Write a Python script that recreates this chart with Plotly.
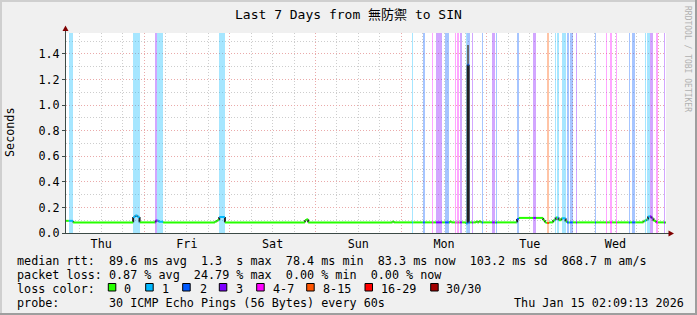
import plotly.graph_objects as go
import pandas as pd

# ---------------- data ----------------
START = pd.Timestamp("2026-01-08 02:09:13")
END = pd.Timestamp("2026-01-15 02:09:13")
SPAN_H = 168.0

# loss periods (hours since START) and their loss category index
band_start_h = [0.8, 18.8, 24.9, 25.6, 42.8, 96.9, 99.9, 102.5, 103.6, 106.1, 109.0, 109.6, 110.3,
                112.0, 112.4, 113.7, 116.5, 119.3, 120.4, 126.2, 130.8, 134.7, 136.9, 137.5, 138.9,
                140.3, 141.1, 142.8, 148.1, 151.2, 152.3, 154.0, 157.6, 158.5, 162.1, 162.7, 163.5,
                165.2, 167.4]
band_end_h = [2.0, 20.7, 25.6, 27.2, 44.5, 97.2, 100.5, 102.8, 105.3, 107.2, 109.3, 110.1, 110.9,
              112.4, 113.1, 114.0, 116.8, 120.1, 120.7, 126.8, 131.6, 135.3, 137.2, 138.0, 140.0,
              140.8, 141.9, 143.1, 148.4, 151.5, 152.9, 154.3, 157.9, 159.4, 162.4, 163.5, 164.3,
              165.7, 167.7]
band_loss = [1, 1, 3, 1, 1, 1, 2, 4, 3, 2, 4, 4, 3, 1, 2, 3, 2, 3, 2, 2, 3, 5, 1, 1, 1, 2, 2, 3,
             2, 4, 4, 4, 2, 2, 1, 1, 3, 4, 3]

# median rtt (seconds), step changes at these hours since START
median_h = [0.0, 2.0, 18.8, 19.4, 20.0, 20.6, 25.1, 25.9, 27.2, 41.7, 42.3, 42.9, 44.5, 66.9,
            67.3, 67.8, 91.4, 91.8, 107.5, 107.9, 112.0, 112.45, 112.75, 114.8, 115.2, 115.6,
            116.1, 126.3, 126.8, 133.6, 134.1, 134.5, 135.3, 136.4, 137.1, 137.9, 138.7, 139.9,
            140.3, 161.7, 162.5, 163.0, 163.9, 164.5, 165.2]
median_s = [0.095, 0.083, 0.125, 0.137, 0.125, 0.083, 0.098, 0.088, 0.083, 0.090, 0.100, 0.125,
            0.083, 0.100, 0.107, 0.083, 0.090, 0.083, 0.090, 0.083, 0.075, 1.316, 0.083, 0.090,
            0.083, 0.092, 0.083, 0.110, 0.118, 0.100, 0.083, 0.078, 0.083, 0.100, 0.122, 0.100,
            0.115, 0.090, 0.083, 0.095, 0.105, 0.130, 0.115, 0.095, 0.083]

# smoke (ping spread) visible at the spike
smoke_start_h = [112.45]
smoke_end_h = [112.9]
smoke_lo = [0.09]
smoke_hi = [1.47]

loss_labels = ["0", "1", "2", "3", "4-7", "8-15", "16-29", "30/30"]
loss_colors = ["#26ff00", "#00b8ff", "#0059ff", "#7e00ff", "#ff00ff", "#ff5500", "#ff0000", "#a10000"]

y_tick_vals = [0.0, 0.2, 0.4, 0.6, 0.8, 1.0, 1.2, 1.4]
Y_MAX = 1.564

title_text = "Last 7 Days from 無防禦 to SIN"
legend_lines = [
    "median rtt:  89.6 ms avg  1.3  s max  78.4 ms min  83.3 ms now  103.2 ms sd  868.7 m am/s",
    "packet loss: 0.87 % avg  24.79 % max  0.00 % min  0.00 % now",
    "loss color:",
    "probe:       30 ICMP Echo Pings (56 Bytes) every 60s",
]
stamp_text = "Thu Jan 15 02:09:13 2026"
watermark = "RRDTOOL / TOBI OETIKER"

# ---------------- style ----------------
W, H = 697, 315
L, T, PW, PH = 66, 33, 600, 200
MONO = "DejaVu Sans Mono, Noto Sans CJK TC, monospace"
FS = 11.75
BACK = "#F0F0F0"
GRID = "#cdcdcd"
MGRID = "#eaaaaa"
AXIS = "#3c4a46"
ARROW = "#7f0000"


def rgba(hexc, a):
    hexc = hexc.lstrip("#")
    r, g, b = int(hexc[0:2], 16), int(hexc[2:4], 16), int(hexc[4:6], 16)
    return f"rgba({r},{g},{b},{a})"


def ts(h):
    return START + pd.to_timedelta(h, unit="h")


def px2x(px):
    return (px - L) / PW


def py2y(py):
    return (T + PH - py) / PH


def cat_at(h):
    for s, e, c in zip(band_start_h, band_end_h, band_loss):
        if s <= h < e:
            return c
    return 0


fig = go.Figure()

# loss background bands
fig.add_trace(go.Bar(
    x=[ts((s + e) / 2) for s, e in zip(band_start_h, band_end_h)],
    y=[Y_MAX] * len(band_loss),
    base=0,
    width=[(e - s) * 3600 * 1000 for s, e in zip(band_start_h, band_end_h)],
    marker=dict(color=[rgba(loss_colors[c], 0.35) for c in band_loss], line=dict(width=0)),
    hoverinfo="skip",
))

# smoke
fig.add_trace(go.Bar(
    x=[ts((s + e) / 2) for s, e in zip(smoke_start_h, smoke_end_h)],
    y=[hi - lo for lo, hi in zip(smoke_lo, smoke_hi)],
    base=smoke_lo,
    width=[(e - s) * 3600 * 1000 for s, e in zip(smoke_start_h, smoke_end_h)],
    marker=dict(color="#6a6a6a", line=dict(width=0)),
    hoverinfo="skip",
))

# median pieces coloured by loss
cuts_all = sorted(set(band_start_h + band_end_h))
pieces = []
for i in range(len(median_h)):
    a = median_h[i]
    b = median_h[i + 1] if i + 1 < len(median_h) else SPAN_H
    v = median_s[i]
    cuts = [a] + [t for t in cuts_all if a < t < b] + [b]
    for j in range(len(cuts) - 1):
        pieces.append((cuts[j], cuts[j + 1], v, cat_at((cuts[j] + cuts[j + 1]) / 2)))

vx, vy = [], []
for k in range(1, len(pieces)):
    if abs(pieces[k][2] - pieces[k - 1][2]) > 1e-9:
        vx += [ts(pieces[k][0]), ts(pieces[k][0]), None]
        vy += [pieces[k - 1][2], pieces[k][2], None]
fig.add_trace(go.Scatter(x=vx, y=vy, mode="lines", line=dict(color="#222222", width=2),
                         hoverinfo="skip", connectgaps=False))

for c, col in enumerate(loss_colors):
    xs, ys = [], []
    for a, b, v, cc in pieces:
        if cc == c:
            xs += [ts(a), ts(b), None]
            ys += [v, v, None]
    if xs:
        fig.add_trace(go.Scatter(x=xs, y=ys, mode="lines", line=dict(color=col, width=2),
                                 hoverinfo="skip", connectgaps=False))

# ---------------- annotations & decorations ----------------
ann = []


def text(px, py, s, size=FS, anchor="left", color="#000000", angle=0):
    ann.append(dict(x=px2x(px), y=py2y(py), xref="paper", yref="paper", text=s.replace(" ", "\u00a0"),
                    showarrow=False, xanchor=anchor, yanchor="middle", textangle=angle,
                    font=dict(family=MONO, size=size, color=color), borderpad=0))


text(348.5, 14.5, title_text, size=13, anchor="center")
text(10, 132, "Seconds", anchor="center", angle=-90)
text(688, 59, watermark, size=8, anchor="center", color="#b0b0b0", angle=90)
line_y = [260.5, 274.5, 288.5, 302.5]
for s, yy in zip(legend_lines, line_y):
    text(15.5, yy, s)
text(513, 302.5, stamp_text)

box_x = [108.3, 145.7, 182.7, 219.3, 256.7, 306.7, 365, 430.7]
label_x = [123.3, 161.7, 199, 235.7, 272.7, 322.7, 380, 445.7]
shapes = []
for bx, lx, lab, col in zip(box_x, label_x, loss_labels, loss_colors):
    shapes.append(dict(type="rect", xref="paper", yref="paper", x0=px2x(bx), x1=px2x(bx + 7.5),
                       y0=py2y(291), y1=py2y(283.5), fillcolor=col, line=dict(color="#000", width=1)))
    text(lx - 0.5, 288.5, lab)

# frame
for (x0, y0, x1, y1, col) in [(0, 0, W, 2, "#CFCFCF"), (0, 0, 2, H, "#CFCFCF"),
                               (0, H - 2, W, H, "#9E9E9E"), (W - 2, 0, W, H, "#9E9E9E")]:
    shapes.append(dict(type="rect", xref="paper", yref="paper", x0=px2x(x0), x1=px2x(x1),
                       y0=py2y(y1), y1=py2y(y0), fillcolor=col, line=dict(width=0), layer="above"))

# axis extensions & arrows
shapes.append(dict(type="line", xref="paper", yref="paper", x0=px2x(65.5), x1=px2x(65.5),
                   y0=py2y(33), y1=py2y(29), line=dict(color=AXIS, width=1)))
shapes.append(dict(type="path", xref="paper", yref="paper",
                   path=f"M {px2x(62.5)} {py2y(31)} L {px2x(65.5)} {py2y(25.5)} L {px2x(68.5)} {py2y(31)} Z",
                   fillcolor=ARROW, line=dict(width=0)))
shapes.append(dict(type="line", xref="paper", yref="paper", x0=px2x(666), x1=px2x(670),
                   y0=py2y(233.5), y1=py2y(233.5), line=dict(color=AXIS, width=1)))
shapes.append(dict(type="path", xref="paper", yref="paper",
                   path=f"M {px2x(668.5)} {py2y(230.5)} L {px2x(674)} {py2y(233.5)} L {px2x(668.5)} {py2y(236.5)} Z",
                   fillcolor=ARROW, line=dict(width=0)))

fig.update_layout(
    width=W, height=H,
    margin=dict(l=L, r=W - L - PW, t=T, b=H - T - PH, pad=0),
    paper_bgcolor=BACK, plot_bgcolor="#FFFFFF",
    showlegend=False, barmode="overlay", bargap=0,
    annotations=ann, shapes=shapes,
    xaxis=dict(type="date", range=[START, END], showgrid=True, gridcolor=MGRID, griddash="1px,2px",
               gridwidth=1, dtick=86400000, tick0="2026-01-08", tickformat="%a", ticklabelmode="period",
               ticks="", showline=True, linecolor=AXIS, linewidth=1, zeroline=False,
               tickfont=dict(family=MONO, size=FS, color="#000"),
               minor=dict(dtick=21600000, tick0="2026-01-08", showgrid=True, gridcolor=GRID,
                          griddash="1px,2px", gridwidth=1)),
    yaxis=dict(range=[0, Y_MAX], tickvals=y_tick_vals, tickformat=".1f", showgrid=True,
               gridcolor=MGRID, griddash="1px,2px", gridwidth=1, ticks="outside", ticklen=3,
               tickcolor=AXIS, showline=True, linecolor=AXIS, linewidth=1, zeroline=False,
               tickfont=dict(family=MONO, size=FS, color="#000"),
               minor=dict(dtick=0.1, tick0=0, showgrid=True, gridcolor=GRID, griddash="1px,2px",
                          gridwidth=1)),
)

fig.write_html("out.html")
